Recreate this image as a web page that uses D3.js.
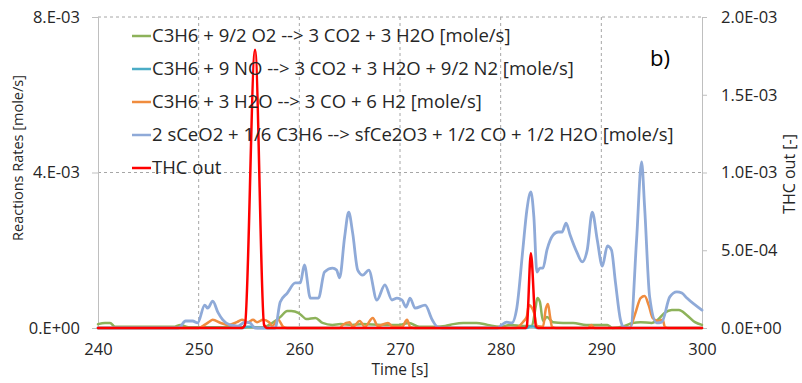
<!DOCTYPE html>
<html>
<head>
<meta charset="utf-8">
<script src="https://cdn.jsdelivr.net/npm/d3@7"></script>
<style>
  html, body { margin: 0; padding: 0; background: #fff; }
  svg { display: block; font-family: "Open Sans", "Noto Sans", sans-serif; }
</style>
</head>
<body>
<svg id="chart" width="802" height="383"></svg>
<script>
// ---- Data: [time s, rate mole/s] ----
const oxidationRate = [[240,1.0e-4],[240.7,1.3e-4],[241.2,1.3e-4],[241.7,0.3e-4],[247.5,0.3e-4],[248.2,0.8e-4],[249,0.2e-4],[256.5,0.2e-4],[257.0,0.8e-4],[257.3,1.3e-4],[258.1,2.8e-4],[258.8,4.4e-4],[259.2,4.4e-4],[259.9,3.9e-4],[260.2,3.3e-4],[260.7,2.3e-4],[261.6,2.6e-4],[262.3,1.3e-4],[263.3,0.8e-4],[264.1,1.0e-4],[265.2,0.8e-4],[266.3,1.0e-4],[268.2,0.8e-4],[269.9,0.8e-4],[270.9,1.3e-4],[271.9,0.3e-4],[273.6,0.3e-4],[274.5,0.5e-4],[275.3,1.0e-4],[276.3,1.3e-4],[277.6,1.3e-4],[278.7,0.8e-4],[279.9,0.3e-4],[281.0,0.8e-4],[282.2,0.5e-4],[283.1,0.5e-4],[283.45,5.0e-4],[283.65,7.7e-4],[283.9,6.7e-4],[284.2,1.8e-4],[284.6,2.8e-4],[285.2,1.5e-4],[286.2,1.3e-4],[287.2,1.3e-4],[288.5,0.8e-4],[290.0,0.8e-4],[290.6,0.8e-4],[291.1,0],[292.3,0.5e-4],[293.1,1.3e-4],[293.9,1.5e-4],[295.0,1.3e-4],[295.6,2.1e-4],[296.3,3.9e-4],[297.0,4.6e-4],[297.7,4.6e-4],[298.5,3.3e-4],[299.3,1.5e-4],[300,0.8e-4]];

const noReductionRate = [[240,0],[254.4,0],[254.8,0.3e-4],[255.4,0.3e-4],[255.8,0],[282.6,0],[282.9,0.4e-4],[283.3,0.4e-4],[283.6,0],[300,0]];

const steamReformingRate = [[240,0],[250.0,0],[250.4,0.5e-4],[251.0,1.5e-4],[251.4,2.1e-4],[252.2,1.3e-4],[253.0,0.8e-4],[253.8,1.5e-4],[254.3,2.1e-4],[254.9,1.5e-4],[255.4,2.1e-4],[255.8,1.5e-4],[256.4,2.1e-4],[257.0,1.5e-4],[257.3,0.5e-4],[257.9,2.1e-4],[258.4,0.3e-4],[258.8,0],[264.0,0],[264.3,0.8e-4],[265.0,1.5e-4],[265.3,0.3e-4],[266.0,1.8e-4],[266.5,0.3e-4],[267.3,2.6e-4],[267.8,0.5e-4],[268.8,1.3e-4],[269.3,0.3e-4],[270.2,0.3e-4],[270.7,2.1e-4],[271.0,0.3e-4],[271.5,0],[281.5,0],[282.2,1.5e-4],[282.6,3.0e-4],[282.8,5.9e-4],[283.3,4.0e-4],[283.6,0.5e-4],[284.2,0.3e-4],[284.5,5.1e-4],[284.7,6.2e-4],[284.9,3.0e-4],[285.1,0.3e-4],[285.5,0],[288.7,0],[289.0,0.8e-4],[289.3,0],[292.8,0],[293.4,4.0e-4],[293.9,7.7e-4],[294.3,8.2e-4],[294.7,5.9e-4],[295.1,2.6e-4],[295.6,1.8e-4],[296.1,2.1e-4],[296.3,0.3e-4],[296.6,0],[300,0]];

const ceriaReductionRate = [[240,0],[248.0,0],[248.7,1.8e-4],[249.4,1.8e-4],[249.9,1.3e-4],[250.6,5.9e-4],[250.9,5.1e-4],[251.4,6.9e-4],[251.9,4.1e-4],[252.4,2.1e-4],[253.1,0.8e-4],[253.9,0.5e-4],[254.6,1.5e-4],[255.1,1.3e-4],[255.6,0],[257.6,0],[258.1,6.7e-4],[258.8,9.0e-4],[259.6,11.6e-4],[260.1,11.6e-4],[260.5,16.2e-4],[261.1,7.7e-4],[261.9,7.7e-4],[262.5,14.4e-4],[263.3,15.4e-4],[263.7,14.9e-4],[264.0,12.9e-4],[264.5,23.4e-4],[264.9,29.8e-4],[265.3,24.4e-4],[265.8,14.9e-4],[266.3,13.6e-4],[266.9,14.9e-4],[267.7,7.2e-4],[268.5,11.1e-4],[269.2,7.2e-4],[269.7,7.7e-4],[270.2,7.2e-4],[270.6,5.4e-4],[271.0,7.7e-4],[271.5,5.1e-4],[272.5,5.9e-4],[273.2,2.1e-4],[273.7,0.3e-4],[274.2,0],[279.7,0],[280.1,0.8e-4],[280.6,1.5e-4],[281.1,1.3e-4],[281.6,5.1e-4],[282.2,20.1e-4],[282.6,30.3e-4],[283.0,35.0e-4],[283.3,28.5e-4],[283.6,14.4e-4],[283.9,15.4e-4],[284.2,15.4e-4],[284.6,20.1e-4],[285.2,23.9e-4],[285.7,24.7e-4],[286.1,24.7e-4],[286.5,27.0e-4],[286.9,23.9e-4],[287.6,19.3e-4],[288.1,17.0e-4],[288.6,20.1e-4],[289.1,29.8e-4],[289.6,22.6e-4],[290.1,15.9e-4],[290.6,21.1e-4],[291.0,20.1e-4],[291.4,11.8e-4],[291.9,2.1e-4],[292.2,0.3e-4],[292.9,0],[293.5,22.6e-4],[294.0,42.7e-4],[294.3,31.1e-4],[294.8,8.0e-4],[295.5,1.3e-4],[296.0,1.5e-4],[296.8,8.0e-4],[297.5,9.3e-4],[298.0,9.0e-4],[298.5,7.7e-4],[300,4.6e-4]];

// THC at outlet [-], plotted on the secondary axis
const thcOut = [[240,0],[254.3,0],[254.6,0.02e-3],[255.6,1.79e-3],[256.5,0.02e-3],[256.8,0],[282.5,0],[282.6,0.01e-3],[283.0,0.48e-3],[283.5,0.01e-3],[283.7,0],[300,0]];

const legendLabels = [
  "C3H6 + 9/2 O2 --> 3 CO2 + 3 H2O [mole/s]",
  "C3H6 + 9 NO --> 3 CO2 + 3 H2O + 9/2 N2 [mole/s]",
  "C3H6 + 3 H2O --> 3 CO + 6 H2 [mole/s]",
  "2 sCeO2 + 1/6 C3H6 --> sfCe2O3 + 1/2 CO + 1/2 H2O [mole/s]",
  "THC out"
];
const xTicks = [240, 250, 260, 270, 280, 290, 300];
const yLeftTicks = [0, 4e-3, 8e-3];
const yLeftTickLabels = ["0.E+00", "4.E-03", "8.E-03"];
const yRightTicks = [0, 5e-4, 1e-3, 1.5e-3, 2e-3];
const yRightTickLabels = ["0.0E+00", "5.0E-04", "1.0E-03", "1.5E-03", "2.0E-03"];

// ---- Layout ----
const W = 802, H = 383;
const m = { left: 98, right: 100, top: 17, bottom: 55 };
const pw = W - m.left - m.right, ph = H - m.top - m.bottom;

const svg = d3.select("#chart");
const g = svg.append("g").attr("transform", `translate(${m.left},${m.top})`);

const x = d3.scaleLinear().domain([240, 300]).range([0, pw]);
const yL = d3.scaleLinear().domain([0, 8e-3]).range([ph, 0]);
const yR = d3.scaleLinear().domain([0, 2e-3]).range([ph, 0]);

const gridColor = "#A6A6A6", axisColor = "#BFBFBF", textColor = "#262626";

// Dashed gridlines
g.append("g").selectAll("line").data(xTicks.filter(t => t > 240 && t < 300)).join("line")
  .attr("x1", d => x(d)).attr("x2", d => x(d)).attr("y1", 0).attr("y2", ph)
  .attr("stroke", gridColor).attr("stroke-dasharray", "3,3");
g.append("g").selectAll("line").data(yLeftTicks.filter(t => t > 0)).join("line")
  .attr("x1", 0).attr("x2", pw).attr("y1", d => yL(d)).attr("y2", d => yL(d))
  .attr("stroke", gridColor).attr("stroke-dasharray", "3,3");

// Axes
const fs = 16.5;
const leftAxis = d3.axisLeft(yL).tickValues(yLeftTicks)
  .tickFormat((d, i) => yLeftTickLabels[i]).tickSizeOuter(0).tickSize(6).tickPadding(12);
const gl = g.append("g").call(leftAxis);
const rightAxis = d3.axisRight(yR).tickValues(yRightTicks)
  .tickFormat((d, i) => yRightTickLabels[i]).tickSizeOuter(0).tickSize(5).tickPadding(14);
const gr = g.append("g").attr("transform", `translate(${pw},0)`).call(rightAxis);
const bottomAxis = d3.axisBottom(x).tickValues(xTicks).tickSize(0).tickPadding(15).tickSizeOuter(0);
const gb = g.append("g").attr("transform", `translate(0,${ph})`).call(bottomAxis);
[gl, gr, gb].forEach(a => {
  a.select(".domain").attr("stroke", axisColor);
  a.selectAll(".tick line").attr("stroke", axisColor);
  a.selectAll(".tick text").attr("fill", textColor).style("font-size", fs + "px")
    .style("font-family", '"Open Sans", sans-serif');
});

// Series lines
const line = yScale => d3.line().x(d => x(d[0])).y(d => yScale(d[1])).curve(d3.curveMonotoneX);
const series = [
  { data: oxidationRate, color: "#8DB25A", y: yL, w: 2.5 },
  { data: noReductionRate, color: "#4BACC6", y: yL, w: 2.5 },
  { data: steamReformingRate, color: "#F08C3E", y: yL, w: 2.5 },
  { data: ceriaReductionRate, color: "#8FAAD8", y: yL, w: 2.8 },
  { data: thcOut, color: "#FF0000", y: yR, w: 2.5 }
];
series.forEach(s => {
  g.append("path").datum(s.data).attr("d", line(s.y))
    .attr("fill", "none").attr("stroke", s.color).attr("stroke-width", s.w)
    .attr("stroke-linejoin", "round").attr("stroke-linecap", "round");
});

// Legend
const lg = svg.append("g").attr("transform", "translate(132,36)");
legendLabels.forEach((lab, i) => {
  const row = lg.append("g").attr("transform", `translate(0,${i * 33})`);
  row.append("line").attr("x1", 0).attr("x2", 19).attr("y1", 0).attr("y2", 0)
    .attr("stroke", series[i].color).attr("stroke-width", 2.5);
  row.append("text").attr("x", 20).attr("y", 0).attr("dy", "0.35em")
    .attr("fill", textColor).style("font-size", "18.5px").text(lab);
});

// Panel tag
svg.append("text").attr("x", 650).attr("y", 58).attr("dy", "0.35em")
  .attr("fill", "#000").style("font-size", "22px").text("b)");

// Axis titles
svg.append("text").attr("x", m.left + pw / 2).attr("y", 370).attr("dy", "0.35em")
  .attr("text-anchor", "middle").attr("fill", textColor).style("font-size", "15.5px").text("Time [s]");
svg.append("text").attr("transform", "translate(18,158) rotate(-90)").attr("dy", "0.35em")
  .attr("text-anchor", "middle").attr("fill", textColor).style("font-size", "14.5px")
  .text("Reactions Rates [mole/s]");
svg.append("text").attr("transform", "translate(789,174) rotate(-90)").attr("dy", "0.35em")
  .attr("text-anchor", "middle").attr("fill", textColor).style("font-size", "16px")
  .text("THC out [-]");
</script>
</body>
</html>
